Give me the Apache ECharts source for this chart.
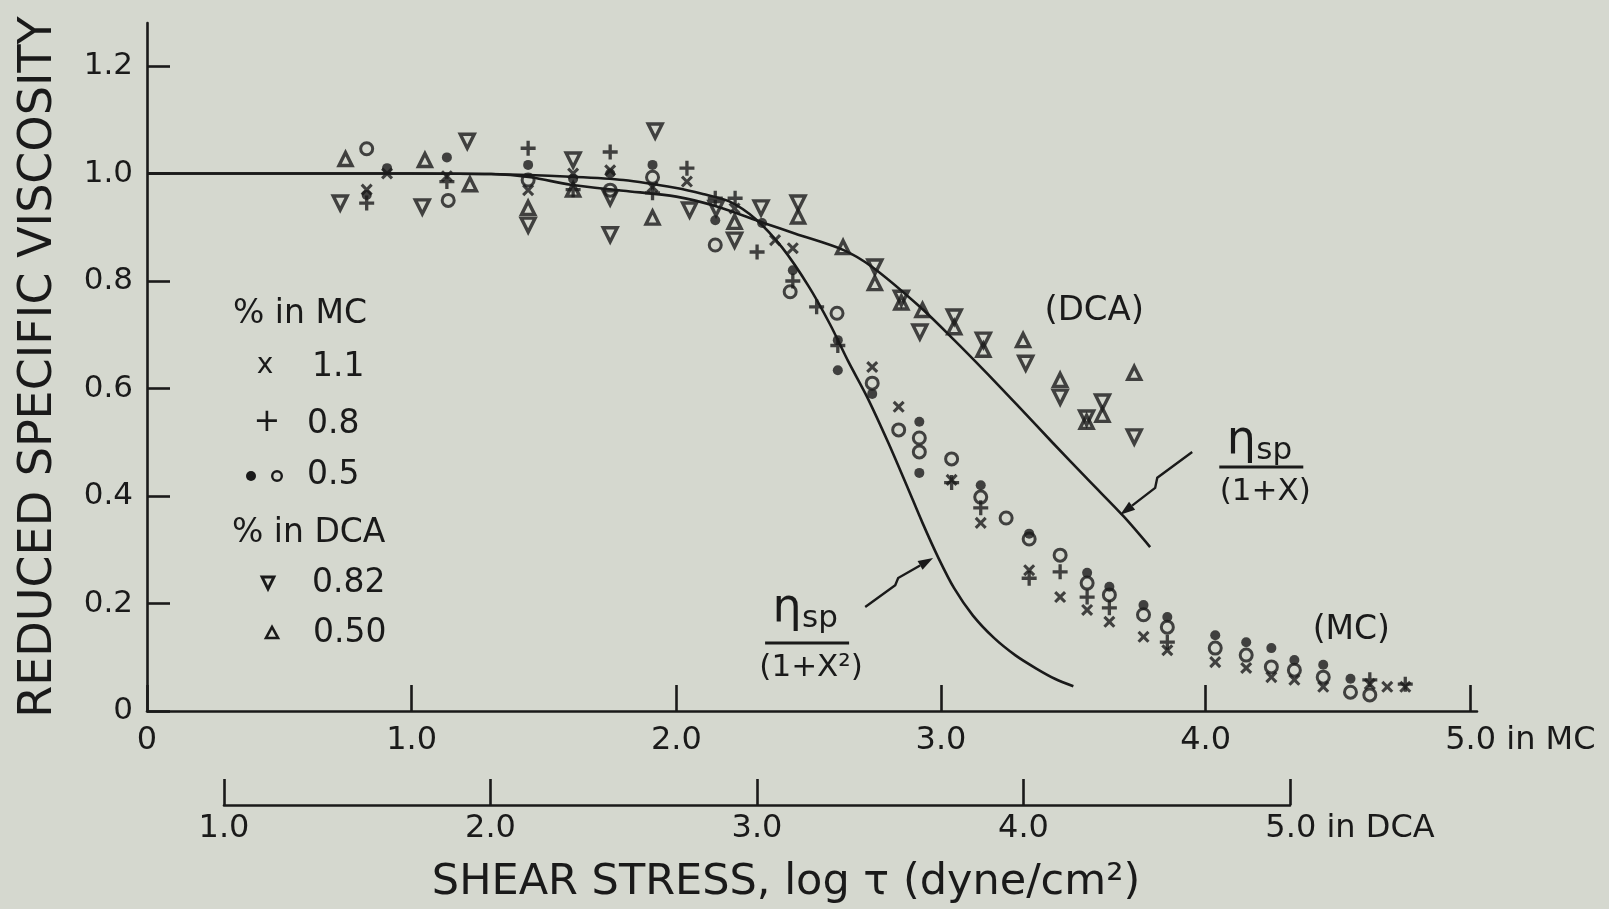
<!DOCTYPE html>
<html>
<head>
<meta charset="utf-8">
<script src="https://cdn.jsdelivr.net/npm/echarts@6/dist/echarts.min.js"></script>
<style>
  html, body { margin: 0; padding: 0; background: #d5d8cf; }
  #chart { width: 1609px; height: 909px; }
</style>
</head>
<body>
<div id="chart"></div>
<script>
// Reduced specific viscosity of MC and DCA solutions against shear stress (log τ)

// ---- axes ----
const mcTickValues = [0, 1, 2, 3, 4, 5];
const mcTickLabels = ['0', '1.0', '2.0', '3.0', '4.0', '5.0'];
const mcUnitSuffix = ' in MC';
const dcaTickValues = [1, 2, 3, 4, 5];
const dcaTickLabels = ['1.0', '2.0', '3.0', '4.0', '5.0'];
const dcaUnitSuffix = ' in DCA';
const yTickValues = [0, 0.2, 0.4, 0.6, 0.8, 1.0, 1.2];
const yTickLabels = ['0', '0.2', '0.4', '0.6', '0.8', '1.0', '1.2'];

// the DCA stress scale is the MC scale shifted by this many log units
const DCA_SHIFT = 0.7;

// ---- MC solutions, x = log τ on the MC scale ----
const mc11 = [
  [0.83, 0.97], [0.907, 1.0], [1.133, 0.995], [1.44, 0.969], [1.61, 1.0], [1.75, 1.006],
  [1.91, 0.975], [2.04, 0.985], [2.22, 0.935], [2.373, 0.876], [2.44, 0.861], [2.74, 0.64],
  [2.84, 0.566], [3.04, 0.43], [3.15, 0.35], [3.333, 0.262], [3.45, 0.212], [3.552, 0.188],
  [3.636, 0.166], [3.765, 0.138], [3.855, 0.113], [4.036, 0.091], [4.153, 0.08], [4.248, 0.063],
  [4.335, 0.058], [4.444, 0.045], [4.62, 0.05], [4.686, 0.045], [4.754, 0.045]
];
const mc08 = [
  [0.83, 0.945], [1.133, 0.985], [1.44, 1.047], [1.61, 0.97], [1.75, 1.04], [1.91, 0.964],
  [2.04, 1.01], [2.147, 0.954], [2.222, 0.954], [2.305, 0.854], [2.44, 0.80], [2.53, 0.752],
  [2.61, 0.68], [3.04, 0.425], [3.15, 0.378], [3.333, 0.247], [3.45, 0.259], [3.552, 0.212],
  [3.636, 0.192], [3.855, 0.128], [4.62, 0.058], [4.754, 0.05]
];
const mc05Filled = [
  [0.83, 0.96], [0.907, 1.01], [1.133, 1.03], [1.44, 1.016], [1.61, 0.99], [1.75, 1.0],
  [1.91, 1.016], [2.147, 0.913], [2.324, 0.908], [2.44, 0.82], [2.61, 0.69], [2.61, 0.634],
  [2.74, 0.59], [2.918, 0.538], [2.918, 0.443], [3.15, 0.42], [3.333, 0.33], [3.552, 0.257],
  [3.636, 0.231], [3.765, 0.197], [3.855, 0.175], [4.036, 0.141], [4.153, 0.128], [4.248, 0.117],
  [4.335, 0.095], [4.444, 0.086], [4.547, 0.06]
];
const mc05Open = [
  [0.83, 1.046], [1.138, 0.95], [1.44, 0.988], [1.75, 0.969], [1.91, 0.993], [2.147, 0.867],
  [2.43, 0.78], [2.607, 0.74], [2.74, 0.61], [2.84, 0.523], [2.918, 0.508], [2.918, 0.482],
  [3.04, 0.469], [3.15, 0.398], [3.246, 0.359], [3.333, 0.32], [3.45, 0.29], [3.552, 0.238],
  [3.636, 0.216], [3.765, 0.179], [3.855, 0.156], [4.036, 0.117], [4.153, 0.104], [4.248, 0.082],
  [4.335, 0.076], [4.444, 0.063], [4.547, 0.035], [4.62, 0.03]
];

// ---- DCA solutions, x = log τ on the DCA scale ----
const dca082 = [
  [1.43, 0.945], [1.74, 0.938], [1.91, 1.06], [2.14, 0.904], [2.31, 1.025], [2.45, 0.886],
  [2.45, 0.955], [2.62, 1.079], [2.75, 0.932], [2.85, 0.935], [2.92, 0.876], [3.02, 0.936],
  [3.16, 0.945], [3.45, 0.826], [3.55, 0.768], [3.62, 0.705], [3.75, 0.733], [3.86, 0.69],
  [4.02, 0.647], [4.15, 0.584], [4.25, 0.545], [4.31, 0.575], [4.43, 0.51]
];
const dca050 = [
  [1.45, 1.027], [1.75, 1.025], [1.92, 0.98], [2.14, 0.936], [2.31, 0.97], [2.61, 0.918],
  [2.92, 0.91], [3.16, 0.92], [3.33, 0.863], [3.45, 0.796], [3.55, 0.76], [3.63, 0.746],
  [3.75, 0.714], [3.86, 0.672], [4.01, 0.69], [4.15, 0.616], [4.25, 0.538], [4.31, 0.551],
  [4.43, 0.629]
];

// ---- reduced curves ----
// ηsp/(1+X²), MC scale
const curveX2 = [
  [0, 1.0], [0.5, 1.0], [1.0, 1.0], [1.3, 0.999], [1.6, 0.994], [1.8, 0.988], [2.0, 0.973],
  [2.1, 0.962], [2.2, 0.948], [2.3, 0.915], [2.4, 0.862], [2.5, 0.79], [2.58, 0.72],
  [2.65, 0.65], [2.72, 0.585], [2.8, 0.5], [2.87, 0.42], [2.93, 0.35], [2.99, 0.285],
  [3.05, 0.228], [3.12, 0.178], [3.2, 0.136], [3.28, 0.104], [3.36, 0.079], [3.43, 0.06], [3.5, 0.046]
];
// ηsp/(1+X), DCA scale
const curveX = [
  [0.7, 1.0], [1.7, 1.0], [2.0, 0.999], [2.15, 0.993], [2.3, 0.979], [2.5, 0.968], [2.7, 0.957],
  [2.85, 0.939], [3.03, 0.908], [3.15, 0.888], [3.33, 0.858], [3.44, 0.826], [3.62, 0.752],
  [3.75, 0.69], [3.87, 0.63], [3.99, 0.568], [4.12, 0.5], [4.26, 0.428], [4.39, 0.362], [4.49, 0.305]
];

const INK = '#1a1a1a';
const BG = '#d5d8cf';
const FONT = '"DejaVu Sans", sans-serif';
const PLUS = 'path://M3.9,0H6.1V3.9H10V6.1H6.1V10H3.9V6.1H0V3.9H3.9Z';

const toMcScale = pts => pts.map(([x, y]) => [x - DCA_SHIFT, y]);
const labelFor = (values, labels) => v => {
  const i = values.findIndex(t => Math.abs(t - v) < 1e-6);
  return i < 0 ? '' : labels[i];
};
const mcLabel = labelFor(mcTickValues, mcTickLabels);
const dcaLabel = labelFor(dcaTickValues, dcaTickLabels);
const yLabel = labelFor(yTickValues, yTickLabels);

function scatter(name, data, symbol, size, style, extra) {
  return Object.assign({
    name, type: 'scatter', data, symbol, symbolSize: size,
    itemStyle: style, z: 4, silent: true
  }, extra || {});
}
const hollow = w => ({ color: 'rgba(0,0,0,0)', borderColor: INK, borderWidth: w });

const axisLineStyle = { color: INK, width: 2.6 };

const option = {
  backgroundColor: BG,
  animation: false,
  textStyle: { fontFamily: FONT, color: INK },
  grid: [
    { left: 147, right: 132, top: 23, bottom: 198, containLabel: false, outerBoundsMode: 'none' },
    { left: 224, right: 319, bottom: 104, height: 30, containLabel: false, outerBoundsMode: 'none' }
  ],
  xAxis: [
    {
      // axis line runs a little past the last tick
      type: 'value', gridIndex: 0, min: 0, max: 5.025, interval: 1,
      axisLine: { show: true, onZero: false, lineStyle: axisLineStyle },
      axisTick: { show: true, inside: true, length: 26, lineStyle: axisLineStyle, customValues: mcTickValues },
      splitLine: { show: false },
      axisLabel: {
        margin: 14, fontSize: 32, color: INK, fontFamily: FONT, customValues: mcTickValues,
        formatter: v => Math.abs(v - 5) < 1e-6 ? '{pad|}{v|' + mcLabel(v) + '}{u|' + mcUnitSuffix + '}' : mcLabel(v),
        rich: {
          pad: { width: 100, fontSize: 32, fontFamily: FONT },
          v: { fontSize: 32, fontFamily: FONT, color: INK },
          u: { fontSize: 32, fontFamily: FONT, color: INK }
        }
      }
    },
    {
      type: 'value', gridIndex: 1, min: 1, max: 5, interval: 1,
      name: 'SHEAR STRESS, log τ (dyne/cm²)', nameLocation: 'middle', nameGap: 56,
      nameTextStyle: { fontSize: 43, color: INK, fontFamily: FONT, padding: [0, 0, 0, 58] },
      axisLine: { show: true, onZero: false, lineStyle: axisLineStyle },
      axisTick: { show: true, inside: true, length: 26, lineStyle: axisLineStyle },
      splitLine: { show: false },
      axisLabel: {
        margin: 8, fontSize: 32, color: INK, fontFamily: FONT,
        formatter: v => Math.abs(v - 5) < 1e-6 ? '{pad|}{v|' + dcaLabel(v) + '}{u|' + dcaUnitSuffix + '}' : dcaLabel(v),
        rich: {
          pad: { width: 120, fontSize: 32, fontFamily: FONT },
          v: { fontSize: 32, fontFamily: FONT, color: INK },
          u: { fontSize: 32, fontFamily: FONT, color: INK }
        }
      }
    }
  ],
  yAxis: [
    {
      type: 'value', gridIndex: 0, min: 0, max: 1.28, interval: 0.2,
      name: 'REDUCED SPECIFIC VISCOSITY', nameLocation: 'middle', nameGap: 85, nameRotate: 90,
      nameTextStyle: { fontSize: 46, color: INK, fontFamily: FONT },
      axisLine: { show: true, onZero: false, lineStyle: axisLineStyle },
      axisTick: { show: true, inside: true, length: 23, lineStyle: axisLineStyle, customValues: yTickValues },
      splitLine: { show: false },
      axisLabel: { margin: 14, fontSize: 31, color: INK, fontFamily: FONT, customValues: yTickValues, formatter: yLabel }
    },
    { type: 'value', gridIndex: 1, min: 0, max: 1, show: false }
  ],
  series: [
    {
      name: 'ηsp/(1+X²)', type: 'line', data: curveX2, smooth: 0.3, showSymbol: false,
      lineStyle: { color: INK, width: 2.6 }, z: 3, silent: true
    },
    {
      name: 'ηsp/(1+X)', type: 'line', data: toMcScale(curveX), smooth: 0.3, showSymbol: false,
      lineStyle: { color: INK, width: 2.6 }, z: 3, silent: true
    },
    scatter('DCA 0.82', toMcScale(dca082), 'triangle', 14, hollow(3.4), { symbolRotate: 180 }),
    scatter('DCA 0.50', toMcScale(dca050), 'triangle', 13, hollow(3.4)),
    scatter('MC 1.1', mc11, PLUS, 14, { color: INK }, { symbolRotate: 45 }),
    scatter('MC 0.8', mc08, PLUS, 15, { color: INK }),
    scatter('MC 0.5 open', mc05Open, 'circle', 12, hollow(3)),
    scatter('MC 0.5', mc05Filled, 'circle', 10, { color: INK }),
    { type: 'scatter', xAxisIndex: 1, yAxisIndex: 1, data: [], silent: true }
  ]
};

const chart = echarts.init(document.getElementById('chart'), null, { renderer: 'canvas' });
chart.setOption(option);

// ---- annotations, anchored in data coordinates (MC scale) ----
const annotations = {
  dcaTag: [3.579, 0.744],
  mcTag: [4.55, 0.149],
  fracX: [4.21, 0.454],
  fracX2: [2.494, 0.1265],
  arrowX: [[3.949, 0.482], [3.817, 0.434], [3.809, 0.415], [3.677, 0.365]],
  arrowX2: [[2.7135, 0.1935], [2.827, 0.234], [2.838, 0.2474], [2.970, 0.2847]]
};
const px = p => chart.convertToPixel({ gridIndex: 0 }, p);

function text(x, y, str, size, align, extra) {
  return {
    type: 'text', silent: true, z: 10,
    style: Object.assign({
      text: str, x, y, fill: INK, font: size + 'px ' + FONT,
      textAlign: align || 'center', textVerticalAlign: 'middle'
    }, extra || {})
  };
}
function fraction(anchor, denom, numDy) {
  const [cx, cy] = px(anchor);
  return [
    text(cx - 20, cy + numDy, 'η', 46, 'center'),
    text(cx - 5, cy + numDy + 10, 'sp', 31, 'left'),
    {
      type: 'line', silent: true, z: 10,
      shape: { x1: cx - 42, y1: cy, x2: cx + 42, y2: cy },
      style: { stroke: INK, lineWidth: 2.8 }
    },
    text(cx + 4, cy + 25, denom, 31, 'center')
  ];
}
function arrow(points) {
  const p = points.map(px);
  const n = p.length;
  const [ex, ey] = p[n - 1];
  const [sx, sy] = p[n - 2];
  const len = Math.hypot(ex - sx, ey - sy);
  const ux = (ex - sx) / len, uy = (ey - sy) / len;
  const head = 15, half = 5;
  const bx = ex - ux * head, by = ey - uy * head;
  return [
    {
      type: 'polyline', silent: true, z: 10,
      shape: { points: p.slice(0, n - 1).concat([[bx, by]]) },
      style: { stroke: INK, lineWidth: 2.4, fill: null }
    },
    {
      type: 'polygon', silent: true, z: 10,
      shape: { points: [[ex, ey], [bx - uy * half, by + ux * half], [bx + uy * half, by - ux * half]] },
      style: { fill: INK }
    }
  ];
}

const [dx, dy] = px(annotations.dcaTag);
const [mx, my] = px(annotations.mcTag);

// legend block: concentration of each series
const legend = [
  text(233, 314, '% in MC', 33, 'left'),
  text(265, 366, 'x', 28, 'center'),
  text(312, 367, '1.1', 33, 'left'),
  text(267, 423, '+', 32, 'center'),
  text(307, 424, '0.8', 33, 'left'),
  { type: 'circle', silent: true, z: 10, shape: { cx: 251, cy: 476, r: 5 }, style: { fill: INK } },
  { type: 'circle', silent: true, z: 10, shape: { cx: 277, cy: 476, r: 4.8 }, style: { fill: null, stroke: INK, lineWidth: 2.4 } },
  text(307, 475, '0.5', 33, 'left'),
  text(232, 533, '% in DCA', 33, 'left'),
  { type: 'polygon', silent: true, z: 10, shape: { points: [[262, 577], [274, 577], [268, 589]] }, style: { fill: null, stroke: INK, lineWidth: 2.8 } },
  text(312, 583, '0.82', 33, 'left'),
  { type: 'polygon', silent: true, z: 10, shape: { points: [[266, 638], [278, 638], [272, 627]] }, style: { fill: null, stroke: INK, lineWidth: 2.6 } },
  text(313, 633, '0.50', 33, 'left')
];

chart.setOption({
  graphic: [
    text(dx, dy, '(DCA)', 34),
    text(mx, my, '(MC)', 33)
  ]
    .concat(fraction(annotations.fracX, '(1+X)', -26))
    .concat(fraction(annotations.fracX2, '(1+X²)', -34))
    .concat(arrow(annotations.arrowX))
    .concat(arrow(annotations.arrowX2))
    .concat(legend)
});
</script>
</body>
</html>
